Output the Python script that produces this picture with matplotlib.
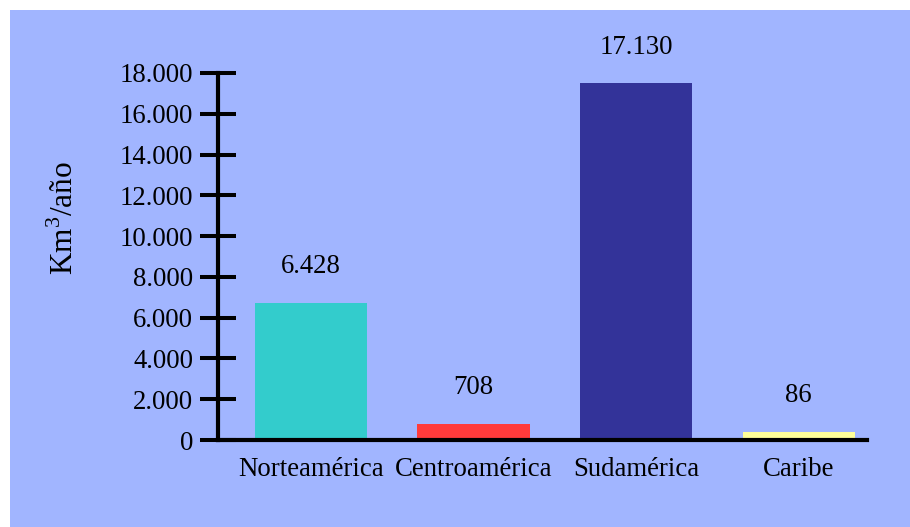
import matplotlib
matplotlib.use("Agg")
import matplotlib.pyplot as plt
from matplotlib.patches import Rectangle

categories = ["Norteamérica", "Centroamérica", "Sudamérica", "Caribe"]
bar_heights = [6720, 800, 17500, 400]
value_labels = ["6.428", "708", "17.130", "86"]
colors = ["#33CCCC", "#FF3B3B", "#333399", "#FFFF99"]
yticks = [0, 2000, 4000, 6000, 8000, 10000, 12000, 14000, 16000, 18000]
ytick_labels = ["0", "2.000", "4.000", "6.000", "8.000", "10.000", "12.000", "14.000", "16.000", "18.000"]

plt.rcParams["font.family"] = ["Liberation Serif", "DejaVu Serif"]
plt.rcParams["mathtext.fontset"] = "custom"
plt.rcParams["mathtext.rm"] = "Liberation Serif"

bg = "#A1B5FF"
W, H = 910, 527
fig = plt.figure(figsize=(W / 100, H / 100), dpi=100, facecolor="white")
fig.patches.append(Rectangle((10 / W, 0), 1, 1 - 10 / H, transform=fig.transFigure,
                             facecolor=bg, edgecolor="none", zorder=-10))

left, right = 218 / W, 867 / W
bottom, top = 1 - 440 / H, 1 - 73 / H
ax = fig.add_axes([left, bottom, right - left, top - bottom])
ax.set_facecolor("none")

x = list(range(len(categories)))
ax.bar(x, bar_heights, width=0.69, color=colors, zorder=2)
ax.set_xlim(-0.572, 3.42)
ax.set_ylim(0, 18000)

fs = 19.3
for xi, h, lab in zip(x, bar_heights, value_labels):
    ax.annotate(lab, (xi, h), xytext=(0, 26), textcoords="offset points",
                ha="center", va="center", fontsize=fs, color="black")

ax.set_yticks(yticks)
ax.set_yticklabels(ytick_labels, fontsize=fs)
ax.set_xticks(x)
ax.set_xticklabels(categories, fontsize=fs)
ax.tick_params(axis="y", direction="inout", length=26, width=2.9, pad=5, color="black")
ax.tick_params(axis="x", length=0, pad=12)

for s in ["top", "right"]:
    ax.spines[s].set_visible(False)
for s in ["left", "bottom"]:
    ax.spines[s].set_linewidth(3.0)
    ax.spines[s].set_zorder(3)

fig.text(65 / W, 1 - 218 / H, "Km$^{3}$/año", rotation=90, ha="center", va="center",
         fontsize=22.6)

fig.savefig("out.png", dpi=100, facecolor="white")
